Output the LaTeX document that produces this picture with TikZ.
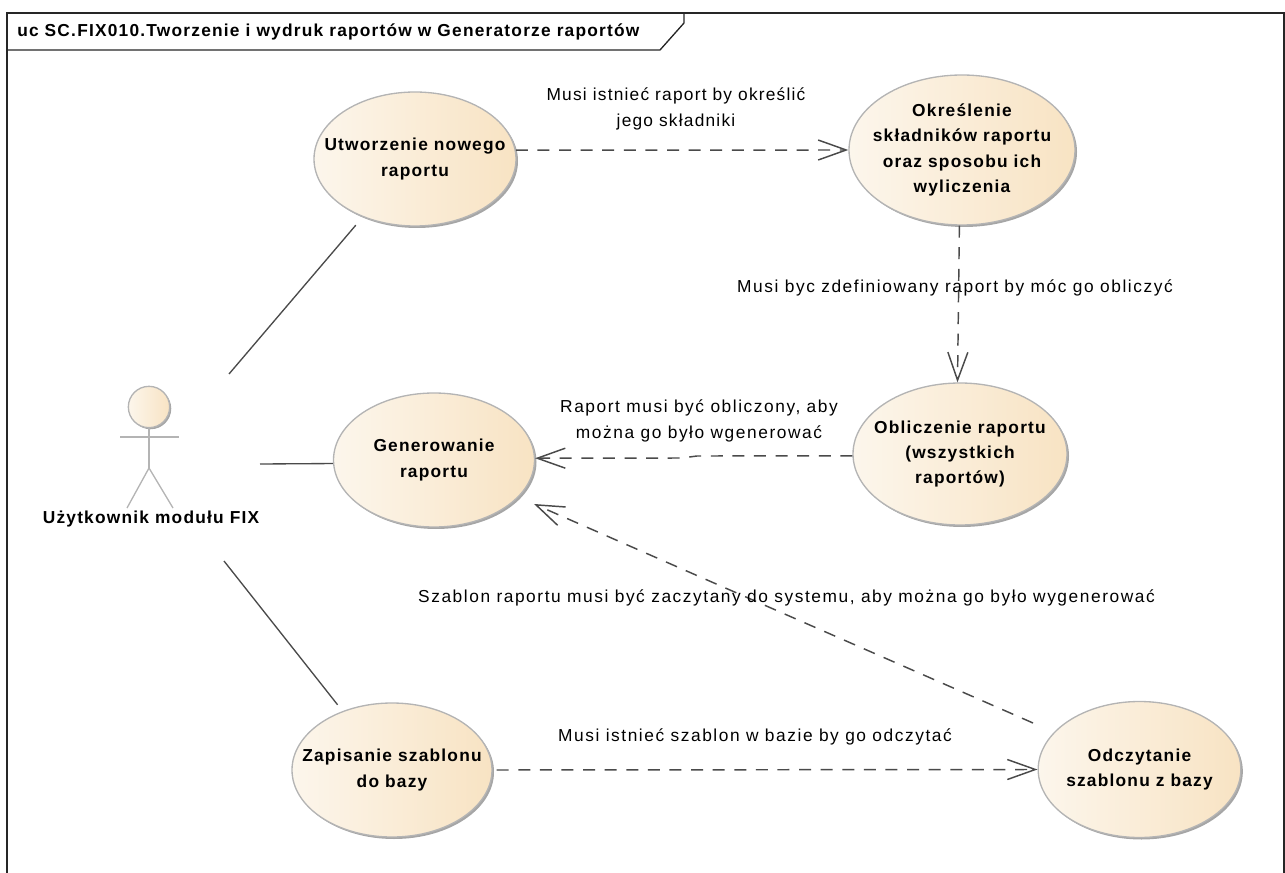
\documentclass[tikz,border=0pt]{standalone}
\usepackage[rgb]{xcolor}
\usepackage{fontspec}
\setmainfont{Liberation Sans}[LetterSpace=7]
\usetikzlibrary{arrows.meta,shapes.geometric,shadows}

\definecolor{usecaseleft}{HTML}{FCF6EC}
\definecolor{usecaseright}{HTML}{F8E3C3}
\definecolor{usecaseline}{HTML}{B4B4B4}
\definecolor{linkline}{HTML}{4A4A4A}

\begin{document}
\begin{tikzpicture}[x=0.75pt, y=-0.75pt,
  usecase/.style={ellipse, draw=usecaseline, line width=1pt, left color=usecaseleft, right color=usecaseright,
    inner sep=-40pt, align=center, font=\fontsize{13}{19}\selectfont\bfseries,
    drop shadow={shadow xshift=1.5pt, shadow yshift=-1.5pt, fill=black!35, opacity=1}},
  linktext/.style={align=center, inner sep=0pt, font=\fontsize{13}{19}\selectfont\addfontfeature{LetterSpace=#1}},
  linktext/.default=9,
  assoc/.style={draw=linkline, line width=1pt},
  dep/.style={draw=linkline, line width=1.1pt, dash pattern=on 9pt off 7.2pt, -{Straight Barb[length=21pt, width=15pt, line width=1.1pt]}},
  stick/.style={draw=usecaseline, line width=1pt}]

\useasboundingbox (0,0) rectangle (1285,873);


% Frame
\draw[black!85, line width=1pt] (7,873) -- (7,13) -- (1284,13) -- (1284,873);
\draw[black!85, line width=1pt] (7,50) -- (660,50) -- (684,23) -- (684,13);
\path
(17,32) node [anchor=west, inner sep=0pt, font=\fontsize{13}{19}\selectfont\bfseries] (title)
{uc SC.FIX010.Tworzenie i wydruk raportów w Generatorze raportów};


% Use cases
\node[usecase, minimum width=151.5pt, minimum height=100.5pt] (utworzenie) at (415,159) {Utworzenie nowego\\raportu};
\node[usecase, minimum width=169.5pt, minimum height=112.5pt] (okreslenie) at (962,150) {Określenie\\składników raportu\\oraz sposobu ich\\wyliczenia};
\node[usecase, minimum width=160.5pt, minimum height=106.5pt] (obliczenie) at (960,454) {Obliczenie raportu\\(wszystkich\\raportów)};
\node[usecase, minimum width=150.75pt, minimum height=100.5pt] (generowanie) at (434,460) {Generowanie\\raportu};
\node[usecase, minimum width=150pt, minimum height=100.5pt] (zapisanie) at (392,770) {Zapisanie szablonu\\do bazy};
\node[usecase, minimum width=152pt, minimum height=102pt] (odczytanie) at (1139.5,769.5) {Odczytanie\\szablonu z bazy};


% Actor
\node[circle, draw=usecaseline, line width=1pt, left color=usecaseleft, right color=usecaseright,
  minimum size=31pt, inner sep=0pt,
  drop shadow={shadow xshift=1.2pt, shadow yshift=-1.2pt, fill=black!35, opacity=1}] (head) at (149,407) {};
\coordinate (hip) at (149,468);
\draw[stick] (head) -- (hip);
\draw[stick] (120,437) -- (179,437);
\draw[stick] (127,508) -- (hip) -- (173,508);
\path
(151,519) node [inner sep=0pt, font=\fontsize{13}{19}\selectfont\bfseries] (actor) {Użytkownik modułu FIX};


% Associations
\coordinate (actorA) at (229,374);
\coordinate (actorB) at (260,464);
\coordinate (actorC) at (224,561);
\draw[assoc, shorten >=8pt] (actorA) -- (utworzenie.228.7);
\draw[assoc] (actorB) -- (generowanie.182);
\draw[assoc, shorten >=6pt] (actorC) -- (zapisanie.130);


% Dependencies
\draw[dep] (utworzenie.5.6) -- (okreslenie.west);
\draw[dep] (okreslenie.-92) -- (obliczenie.92);
\coordinate (bendA) at (697,456);
\coordinate (bendB) at (682,458);
\draw[dep] (obliczenie.181) -- (bendA) -- (bendB) -- (generowanie.1);
\coordinate (fromOdczytanie) at (1033,723);
\coordinate (toGenerowanie) at (534,504);
\draw[dep] (fromOdczytanie) -- (toGenerowanie);
\draw[dep, shorten <=3pt] (zapisanie.east) -- (odczytanie.west);


% Dependency labels
\path
(676,109) node [linktext=7] (labelA) {Musi istnieć raport by określić\\jego składniki};
\path
(955,288) node [linktext] (labelB) {Musi byc zdefiniowany raport by móc go obliczyć};
\path
(699,421) node [linktext] (labelC) {Raport musi być obliczony, aby\\można go było wgenerować};
\path
(786.5,598) node [linktext] (labelD) {Szablon raportu musi być zaczytany do systemu, aby można go było wygenerować};
\path
(755,737) node [linktext] (labelE) {Musi istnieć szablon w bazie by go odczytać};

\end{tikzpicture}
\end{document}
